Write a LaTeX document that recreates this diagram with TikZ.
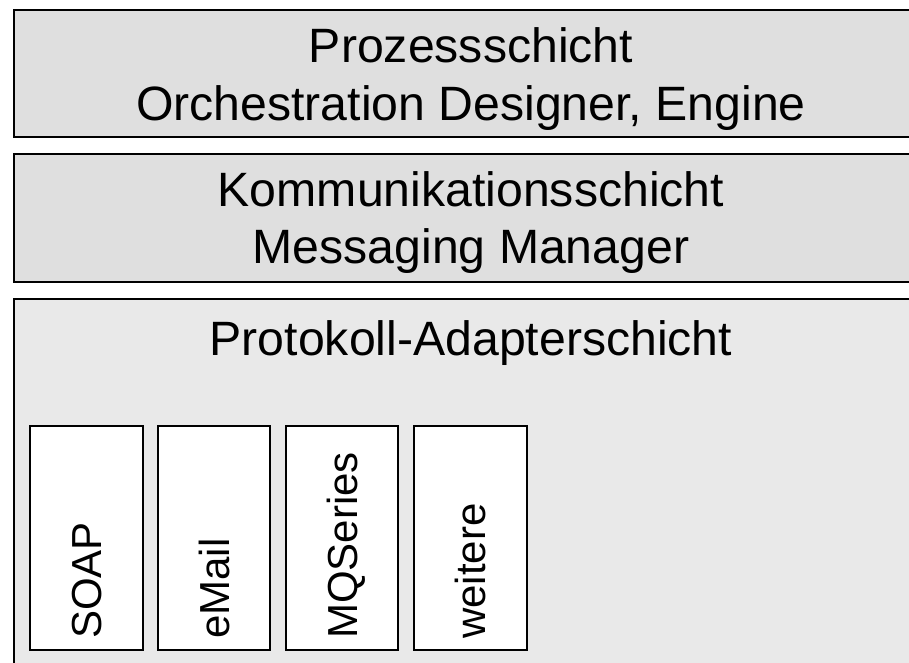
\documentclass[tikz,border=0pt]{standalone}
\usepackage{fontspec}
\setmainfont{Liberation Sans}
\begin{document}
\begin{tikzpicture}[x=1pt,y=-1pt,
  layer/.style={draw=black,line width=2pt,fill=#1},
  adapter/.style={draw=black,line width=1.6pt,fill=white},
  bigtext/.style={anchor=base,inner sep=0pt,font=\fontsize{48.2}{57}\selectfont},
  vtext/.style={anchor=base west,rotate=90,inner sep=0pt,font=\fontsize{42}{50}\selectfont}]
\clip (0,0) rectangle (909,662);
\fill[white] (0,0) rectangle (909,662);
% layers
\draw[layer=gray!25] (14,10) rectangle (930,137);
\node[bigtext] (p1) at (471,62) {Prozessschicht};
\node[bigtext] (p2) at (471,120) {Orchestration Designer, Engine};
\draw[layer=gray!25] (14,154) rectangle (930,282);
\node[bigtext] (k1) at (471,206) {Kommunikationsschicht};
\node[bigtext] (k2) at (471,263) {Messaging Manager};
\draw[layer=gray!17] (14,299) rectangle (930,690);
\node[bigtext] (a1) at (471,355) {Protokoll-Adapterschicht};
% adapters
\draw[adapter] (30,426) rectangle (143,650);
\node[vtext] (soap) at (101.5,639) {SOAP};
\draw[adapter] (158,426) rectangle (270,650);
\node[vtext] (mail) at (229,639) {eMail};
\draw[adapter] (286,426) rectangle (398,650);
\node[vtext] (mq) at (357,639) {MQSeries};
\draw[adapter] (414,426) rectangle (527,650);
\node[vtext] (weit) at (485.5,639) {weitere};
\end{tikzpicture}
\end{document}
